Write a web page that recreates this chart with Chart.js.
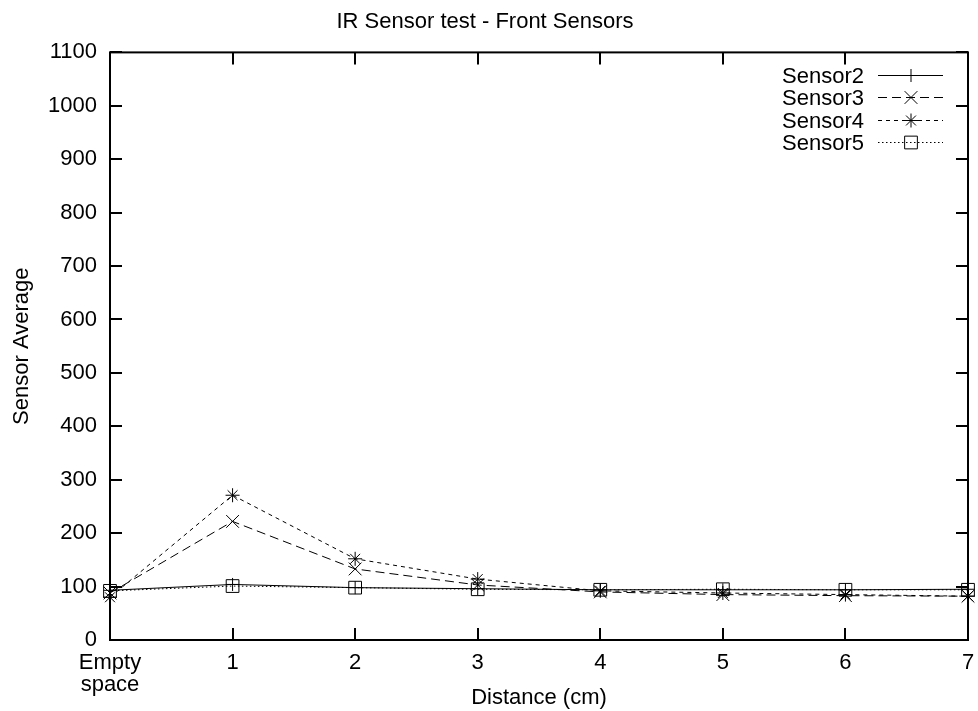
<!DOCTYPE html>
<html>
<head>
<meta charset="utf-8">
<script src="https://cdn.jsdelivr.net/npm/chart.js@4.4.0/dist/chart.umd.min.js"></script>
<style>
  html, body { margin: 0; padding: 0; background: #fff; }
  #wrap { width: 978px; height: 711px; }
</style>
</head>
<body>
<div id="wrap"><canvas id="irChart" width="978" height="711"></canvas></div>
<script>
// categories along the x axis
var distances = [['Empty', 'space'], '1', '2', '3', '4', '5', '6', '7'];

// sensor averages
var sensor2 = [93, 104, 98, 96, 94, 94, 94, 95];
var sensor3 = [88, 222, 133, 103, 90, 85, 83, 82];
var sensor4 = [80, 271, 152, 114, 92, 88, 85, 82];
var sensor5 = [92, 101, 98, 95, 94, 95, 94, 94];

var yMin = 0, yMax = 1100, yStep = 100;

var FONT = 'Liberation Sans, Arial, Helvetica, sans-serif';

// gnuplot-like border with inward ticks on all four sides
var borderTicks = {
  id: 'borderTicks',
  beforeDatasetsDraw: function(chart) {
    var ctx = chart.ctx, a = chart.chartArea;
    var xs = chart.scales.x, ys = chart.scales.y;
    var len = 12;
    ctx.save();
    ctx.strokeStyle = '#000';
    ctx.lineWidth = 2;
    ctx.setLineDash([]);
    ctx.strokeRect(a.left, a.top, a.right - a.left, a.bottom - a.top);
    ctx.beginPath();
    ys.ticks.forEach(function(t) {
      var py = Math.round(ys.getPixelForValue(t.value));
      ctx.moveTo(a.left, py); ctx.lineTo(a.left + len, py);
      ctx.moveTo(a.right, py); ctx.lineTo(a.right - len, py);
    });
    xs.ticks.forEach(function(t, i) {
      var px = Math.round(xs.getPixelForTick(i));
      ctx.moveTo(px, a.bottom); ctx.lineTo(px, a.bottom - len);
      ctx.moveTo(px, a.top); ctx.lineTo(px, a.top + len);
    });
    ctx.stroke();
    ctx.restore();
  }
};

// legend in the top right: label, then line sample with marker
var keyBox = {
  id: 'keyBox',
  afterDatasetsDraw: function(chart) {
    var ctx = chart.ctx;
    var textRight = 864, x0 = 878, x1 = 943, xm = 911;
    var y0 = 75, dy = 22.3;
    ctx.save();
    chart.data.datasets.forEach(function(ds, i) {
      var y = Math.round(y0 + i * dy) + 0.5;
      ctx.font = '22px ' + FONT;
      ctx.fillStyle = '#000';
      ctx.textAlign = 'right';
      ctx.textBaseline = 'middle';
      ctx.fillText(ds.label, textRight, y + 1);
      ctx.strokeStyle = '#000';
      ctx.lineWidth = 1;
      ctx.setLineDash(ds.borderDash || []);
      ctx.beginPath();
      ctx.moveTo(x0, y); ctx.lineTo(x1, y);
      ctx.stroke();
      ctx.setLineDash([]);
      ctx.fillStyle = 'rgba(0,0,0,0)';
      Chart.helpers.drawPoint(ctx, {
        pointStyle: ds.pointStyle,
        radius: ds.pointRadius,
        borderWidth: 1,
        rotation: 0
      }, xm, y);
    });
    ctx.restore();
  }
};

function series(label, data, dash, style, radius) {
  return {
    label: label,
    data: data,
    borderColor: '#000',
    borderWidth: 1,
    borderDash: dash,
    pointStyle: style,
    pointRadius: radius,
    pointHoverRadius: radius,
    pointBorderColor: '#000',
    pointBackgroundColor: 'rgba(0,0,0,0)',
    pointBorderWidth: 1,
    tension: 0,
    fill: false,
    clip: false
  };
}

document.addEventListener('DOMContentLoaded', function() {
  var ctx = document.getElementById('irChart').getContext('2d');

  var data = {
    labels: distances,
    datasets: [
      series('Sensor2', sensor2, [], 'cross', 6.5),
      series('Sensor3', sensor3, [9, 5], 'crossRot', 9),
      series('Sensor4', sensor4, [4, 4], 'star', 7),
      series('Sensor5', sensor5, [1.5, 2.5], 'rect', 9)
    ]
  };

  var config = {
    type: 'line',
    data: data,
    plugins: [borderTicks, keyBox],
    options: {
      responsive: false,
      animation: false,
      layout: { padding: { top: 0, right: 8, bottom: 0, left: 0 } },
      plugins: {
        legend: { display: false },
        tooltip: { enabled: false },
        title: {
          display: true,
          text: 'IR Sensor test - Front Sensors',
          color: '#000',
          font: { family: FONT, size: 22, weight: 'normal' },
          padding: { top: 9, bottom: 17 }
        }
      },
      scales: {
        x: {
          type: 'category',
          offset: false,
          grid: { display: false, drawTicks: false, offset: false },
          border: { display: false },
          ticks: {
            color: '#000',
            padding: 12,
            maxRotation: 0,
            autoSkip: false,
            font: { family: FONT, size: 22, lineHeight: 1 }
          },
          title: {
            display: true,
            text: 'Distance (cm)',
            color: '#000',
            font: { family: FONT, size: 22 },
            padding: { top: 0, bottom: 0 }
          },
          afterFit: function(scale) {
            scale.height = 71;
            scale.paddingLeft = 0;
            scale.paddingRight = 0;
          }
        },
        y: {
          min: yMin,
          max: yMax,
          grid: { display: false, drawTicks: false },
          border: { display: false },
          ticks: {
            stepSize: yStep,
            color: '#000',
            padding: 13,
            font: { family: FONT, size: 22 },
            callback: function(value) { return String(value); }
          },
          title: {
            display: true,
            text: 'Sensor Average',
            color: '#000',
            font: { family: FONT, size: 22 },
            padding: { top: 9, bottom: 0 }
          },
          afterFit: function(scale) { scale.width = 110; }
        }
      }
    }
  };

  var irChart = new Chart(ctx, config);
});
</script>
</body>
</html>
